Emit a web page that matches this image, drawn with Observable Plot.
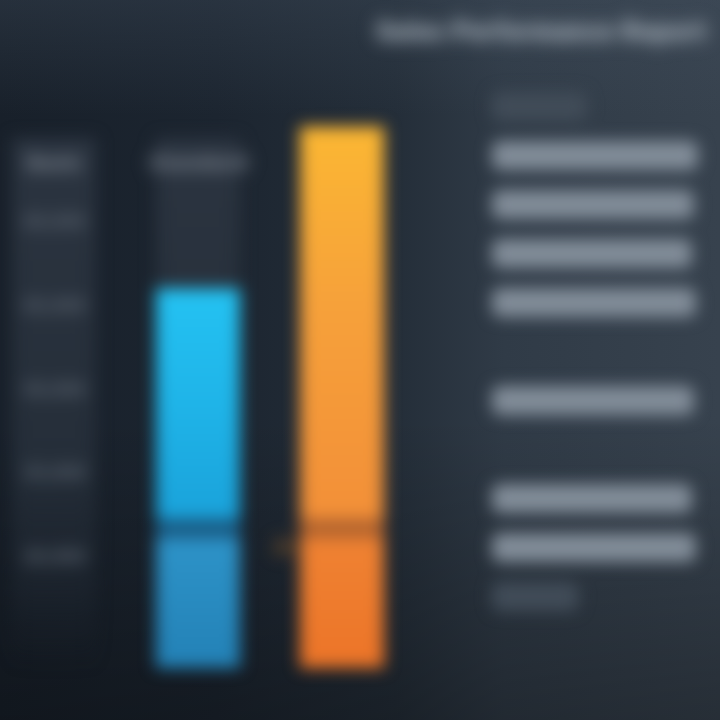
<!DOCTYPE html>
<html>
<head>
<meta charset="utf-8">
<script src="https://cdn.jsdelivr.net/npm/d3@7"></script>
<script src="https://cdn.jsdelivr.net/npm/@observablehq/plot@0.6"></script>
<style>
html, body { margin: 0; padding: 0; }
body {
  width: 720px; height: 720px; overflow: hidden; position: relative;
  font-family: Roboto, "DejaVu Sans", sans-serif;
  background:
    linear-gradient(180deg, rgba(70,84,100,0.30) 0%, rgba(0,0,0,0) 16%, rgba(0,0,0,0) 58%, rgba(0,0,0,0.30) 100%),
    linear-gradient(90deg, #18202a 0%, #1c2530 30%, #242e39 55%, #303b47 70%, #37424e 100%);
}
#stage { position: absolute; left: 0; top: 0; width: 720px; height: 720px; filter: blur(8px); }
#left { position: absolute; left: 0; top: 0; }
#right { position: absolute; left: 440px; top: 0; }
#title {
  position: absolute; left: 376px; top: 16px; width: 326px;
  font-size: 26px; font-weight: 900; color: #b4bec8; white-space: nowrap; letter-spacing: 0.8px;
  filter: blur(4px);
}
</style>
</head>
<body>
<div id="stage">
  <div id="title">Sales Performance Report</div>
  <div id="left"></div>
  <div id="right"></div>
</div>
<script>
// ---- data ----
const categories = ["Basic", "Standard", "Premium"];
const lowerValues = [0, 25, 25];
const totalValues = [0, 68, 97];
const trackValues = [95, 95, 0];
const tickValues = [20, 35, 50, 65, 80];

const legendRows = ["r0", "r1", "r2", "r3", "r4", "r5", "r6", "r7", "r8", "r9", "r10"];
const legendLengths = [46, 100, 98, 97, 99, 0, 98, 0, 97, 99, 42];
const legendTones = ["faint", "main", "main", "main", "main", "none", "main", "none", "main", "main", "faint"];

// ---- styles ----
const palette = {
  Standard: { gap: "#195d86", lower: "url(#blueLow)", upper: "url(#blueUp)" },
  Premium: { gap: "#b5652e", lower: "url(#orangeLow)", upper: "url(#orangeUp)" }
};

const data = categories.map((c, i) => ({ cat: c, lower: lowerValues[i], total: totalValues[i], track: trackValues[i] }));
const bars = data.filter(d => d.total > 0);

const left = Plot.plot({
  width: 420, height: 720,
  marginLeft: 4, marginRight: 28, marginTop: 110, marginBottom: 52,
  x: { domain: categories, paddingInner: 0.414, paddingOuter: 0.05, axis: null },
  y: { domain: [0, 100], axis: null },
  color: { type: "identity" },
  style: { background: "transparent", overflow: "visible" },
  marks: [
    Plot.barY(data.filter(d => d.track > 0), { x: "cat", y1: 0, y2: "track", fill: "url(#trackGrad)" }),
    Plot.text(categories.slice(0, 2), { x: d => d, text: d => d, frameAnchor: "top", dy: 45, fontSize: 21, fontWeight: 900, fill: "#737c87" }),
    Plot.text(tickValues, { x: () => categories[0], y: d => d, text: d => d3.format(",")(d * 1000), fontSize: 19, fontWeight: 900, fill: "#525c67" }),
    Plot.barY(bars, { x: "cat", y1: 0, y2: "total", fill: d => palette[d.cat].gap }),
    Plot.barY(bars, { x: "cat", y1: 0, y2: "lower", insetTop: 10, fill: d => palette[d.cat].lower }),
    Plot.barY(bars, { x: "cat", y1: "lower", y2: "total", insetBottom: 10, fill: d => palette[d.cat].upper }),
    Plot.text(bars.filter(d => d.cat === "Premium"), { x: "cat", y: "lower", text: d => d.lower, dx: -58, dy: 18, fontSize: 18, fontWeight: 900, fill: "#8a5a2c" })
  ]
});

function addDefs(svg, grads) {
  const defs = d3.select(svg).insert("defs", ":first-child");
  for (const [id, stops] of Object.entries(grads)) {
    const g = defs.append("linearGradient").attr("id", id).attr("x1", 0).attr("x2", 0).attr("y1", 0).attr("y2", 1);
    for (const [off, col, op] of stops) g.append("stop").attr("offset", off).attr("stop-color", col).attr("stop-opacity", op ?? 1);
  }
  defs.append("filter").attr("id", "textBlur").attr("x", "-30%").attr("y", "-80%").attr("width", "160%").attr("height", "260%")
    .append("feGaussianBlur").attr("stdDeviation", 3.5);
}
addDefs(left, {
  trackGrad: [[0, "#2b3440", 1], [0.6, "#252e39", 1], [0.85, "#1f2731", 0.6], [1, "#1a212a", 0]],
  blueUp: [[0, "#24c2f2"], [0.5, "#1fb4e8"], [1, "#1aa2da"]],
  blueLow: [[0, "#2d93c8"], [1, "#2381b6"]],
  orangeUp: [[0, "#fbb733"], [0.45, "#f6a13a"], [1, "#f28f38"]],
  orangeLow: [[0, "#ef8232"], [1, "#ec7428"]]
});
d3.select(left).selectAll("text").attr("filter", "url(#textBlur)");
document.getElementById("left").append(left);

const rows = legendRows.map((r, i) => ({ row: r, len: legendLengths[i], tone: legendTones[i] }));
const right = Plot.plot({
  width: 280, height: 720,
  marginLeft: 52, marginRight: 22, marginTop: 78, marginBottom: 94,
  x: { domain: [0, 100], axis: null },
  y: { domain: legendRows, paddingInner: 0.40, paddingOuter: 0.2, axis: null },
  style: { background: "transparent", overflow: "visible" },
  marks: [
    Plot.barX(rows.filter(d => d.len > 0), { y: "row", x1: 0, x2: "len", rx: 8, fill: d => d.tone === "main" ? "#828d99" : "#414c58" })
  ]
});
document.getElementById("right").append(right);
</script>
</body>
</html>
